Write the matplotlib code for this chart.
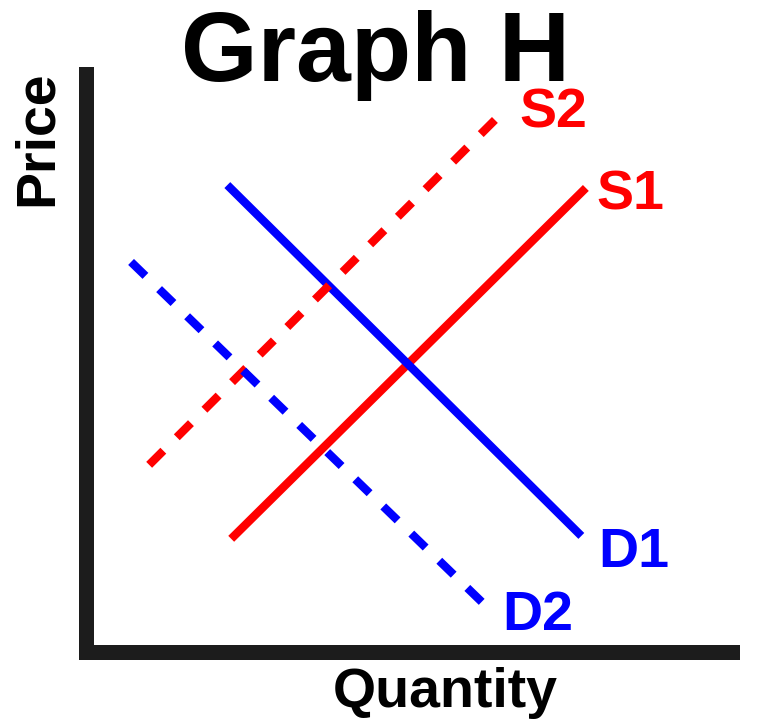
import matplotlib.pyplot as plt

plt.rcParams['font.family'] = ['Liberation Sans', 'DejaVu Sans']
plt.rcParams['lines.scale_dashes'] = False

# line end points (x, y) in chart units 0-10
s1_x = [2.24, 7.73]
s1_y = [1.95, 8.02]
d1_x = [2.18, 7.66]
d1_y = [8.07, 2.00]
s2_x = [0.97, 6.46]
s2_y = [3.23, 9.35]
d2_x = [0.69, 6.20]
d2_y = [6.74, 0.77]

labels = ["S1", "D1", "S2", "D2"]

fig = plt.figure(figsize=(7.73, 7.20), dpi=100)
ax = fig.add_axes([0.1119, 0.0951, 0.8357, 0.8028])
ax.set_xlim(0, 10)
ax.set_ylim(0, 10)

red = "#ff0000"
blue = "#0000ff"
lw = 6.0
dash = (0, (14.4, 13.7))

ax.plot(s1_x, s1_y, color=red, lw=lw, solid_capstyle="butt")
ax.plot(d1_x, d1_y, color=blue, lw=lw, solid_capstyle="butt")
ax.plot(s2_x, s2_y, color=red, lw=lw, linestyle=dash, dash_capstyle="butt")
ax.plot(d2_x, d2_y, color=blue, lw=lw, linestyle=dash, dash_capstyle="butt")

lab_font = dict(fontsize=40, fontweight="bold", va="baseline", ha="left", clip_on=False)
ax.text(7.90, 7.64, labels[0], color=red, **lab_font)
ax.text(7.92, 1.46, labels[1], color=blue, **lab_font)
ax.text(6.70, 9.07, labels[2], color=red, **lab_font)
ax.text(6.43, 0.37, labels[3], color=blue, **lab_font)

# axes look
for side in ["top", "right"]:
    ax.spines[side].set_visible(False)
for side in ["left", "bottom"]:
    ax.spines[side].set_linewidth(10.8)
    ax.spines[side].set_color("#1c1c1c")
ax.set_xticks([])
ax.set_yticks([])

fig.text(0.486, (720 - 81) / 720, "Graph H", fontsize=71, fontweight="bold",
         ha="center", va="baseline")
fig.text(52 / 773, (720 - 138) / 720, "Price", fontsize=40, fontweight="bold",
         rotation=90, rotation_mode="anchor", ha="center", va="baseline")
fig.text(445 / 773, (720 - 707) / 720, "Quantity", fontsize=40, fontweight="bold",
         ha="center", va="baseline")

fig.savefig("out.png", dpi=100)
